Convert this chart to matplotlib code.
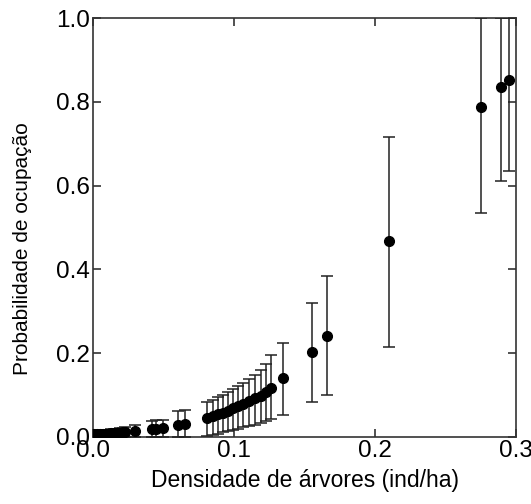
import matplotlib
matplotlib.use("Agg")
import matplotlib.pyplot as plt
import numpy as np

plt.rcParams['font.family'] = ['Liberation Sans', 'DejaVu Sans']

# Tree density (ind/ha)
density = [0.001, 0.003, 0.005, 0.007, 0.009, 0.011, 0.013, 0.015, 0.017, 0.019, 0.021, 0.023,
           0.030, 0.042, 0.045, 0.050, 0.060, 0.065,
           0.0806, 0.0851, 0.0887, 0.0922, 0.0957, 0.099, 0.1026, 0.1064, 0.1106, 0.1149,
           0.119, 0.1227, 0.1265,
           0.135, 0.155, 0.166, 0.210, 0.275, 0.289, 0.295]

# Occupancy probability estimates
occupancy = [0.006, 0.006, 0.007, 0.007, 0.008, 0.008, 0.009, 0.009, 0.010, 0.010, 0.011, 0.012,
             0.014, 0.019, 0.020, 0.022, 0.029, 0.031,
             0.046, 0.050, 0.054, 0.058, 0.063, 0.068, 0.073, 0.079, 0.085, 0.092,
             0.099, 0.107, 0.117,
             0.140, 0.203, 0.241, 0.468, 0.788, 0.835, 0.852]

# Lower and upper confidence limits
lower = [0.000, 0.000, 0.000, 0.000, 0.000, 0.000, 0.000, 0.000, 0.000, 0.000, 0.000, 0.000,
         0.000, 0.000, 0.000, 0.000, 0.000, 0.000,
         0.002, 0.005, 0.008, 0.011, 0.014, 0.017, 0.020, 0.023, 0.026, 0.029,
         0.033, 0.037, 0.042,
         0.052, 0.083, 0.100, 0.215, 0.535, 0.611, 0.635]

upper = [0.012, 0.013, 0.014, 0.015, 0.016, 0.017, 0.018, 0.019, 0.020, 0.021, 0.022, 0.023,
         0.029, 0.039, 0.040, 0.041, 0.063, 0.065,
         0.083, 0.089, 0.095, 0.101, 0.108, 0.115, 0.122, 0.130, 0.139, 0.149,
         0.160, 0.175, 0.195,
         0.224, 0.320, 0.384, 0.716, 1.000, 1.000, 1.000]

x_ticks = [0.0, 0.1, 0.2, 0.3]
x_tick_labels = ["0.0", "0.1", "0.2", "0.3"]
y_ticks = [0.0, 0.2, 0.4, 0.6, 0.8, 1.0]
y_tick_labels = ["0.0", "0.2", "0.4", "0.6", "0.8", "1.0"]

occ = np.array(occupancy)
yerr = np.vstack([occ - np.array(lower), np.array(upper) - occ])

fig = plt.figure(figsize=(5.31, 5.04), dpi=100)
ax = fig.add_axes([0.175, 0.133, 0.797, 0.831])

ax.errorbar(density, occupancy, yerr=yerr, fmt='o', color='black', markersize=7,
            ecolor='#222222', elinewidth=1.1, capsize=4.2, capthick=1.1, zorder=3)

ax.set_xlim(0.0, 0.3)
ax.set_ylim(0.0, 1.0)
ax.set_xticks(x_ticks)
ax.set_xticklabels(x_tick_labels)
ax.set_yticks(y_ticks)
ax.set_yticklabels(y_tick_labels)

ax.tick_params(axis='both', direction='in', length=6, width=1.2, color='#333333',
               labelsize=17.5, top=True, right=True, pad=2)
for s in ax.spines.values():
    s.set_color('#333333')
    s.set_linewidth(1.2)

ax.set_xlabel("Densidade de árvores (ind/ha)", fontsize=16.5, labelpad=5)
ax.set_ylabel("Probabilidade de ocupação", fontsize=15, labelpad=6)
ax.yaxis.set_label_coords(-0.145, 0.45)

fig.savefig("out.png", dpi=100)
